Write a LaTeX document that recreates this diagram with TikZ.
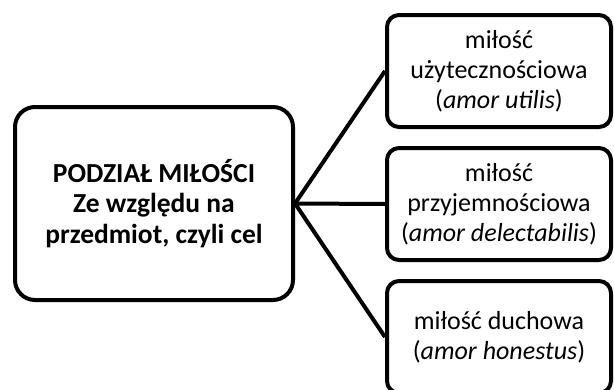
\documentclass[tikz,border=0pt]{standalone}
\usepackage{fontspec}
\setmainfont{Carlito}
\begin{document}
\begin{tikzpicture}[x=1pt,y=-1pt,
  box/.style={draw, line width=4pt, inner sep=0pt, align=center, fill=white},
  mainbox/.style={box, rounded corners=20pt, minimum width=278pt, minimum height=193pt,
    font=\fontsize{27.5}{30.5}\selectfont\bfseries},
  kindbox/.style={box, rounded corners=12pt, minimum width=224pt, minimum height=112pt,
    font=\fontsize{26}{30}\selectfont},
  link/.style={line width=4pt}]
\useasboundingbox (0,0) rectangle (614,389);

\node[mainbox] (main) at (154,203.5) {PODZIAŁ MIŁOŚCI\\Ze względu na\\przedmiot, czyli cel};

\node[kindbox] (utilis) at (499,71) {miłość\\użytecznościowa\\(\textit{amor utilis})};
\node[kindbox] (delect) at (499,204) {miłość\\przyjemnościowa\\(\textit{amor delectabilis})};
\node[kindbox] (honest) at (499,337) {miłość duchowa\\(\textit{amor honestus})};

\draw[link] (main.east) -- (utilis.west);
\draw[link] (main.east) -- (delect.west);
\draw[link] (main.east) -- (honest.west);
\end{tikzpicture}
\end{document}
